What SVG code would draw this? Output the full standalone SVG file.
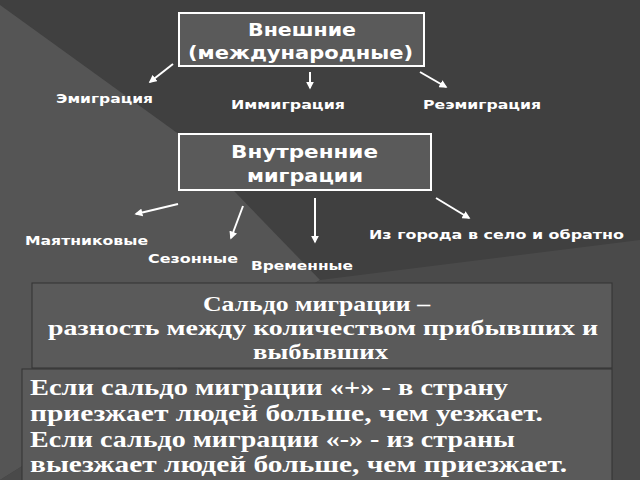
<svg xmlns="http://www.w3.org/2000/svg" width="640" height="480" viewBox="0 0 640 480">
<defs>
<style>
.s{font-family:"DejaVu Sans",sans-serif;font-weight:bold;fill:#fff}
.r{font-family:"Liberation Serif",serif;font-weight:bold;fill:#fff}
.c{stroke:#fff;stroke-width:2;fill:none;marker-end:url(#a)}
</style>
<marker id="a" viewBox="0 0 10 10" refX="8" refY="5" markerWidth="4" markerHeight="4" orient="auto"><path d="M0,0L10,5L0,10z" fill="#fff"/></marker>
</defs>
<rect width="640" height="480" fill="#404040"/>
<polygon points="0,5 180,135 320,280 0,480" fill="#555"/>
<polygon points="320,280 640,240 640,480 0,480" fill="#4a4a4a"/>
<g id="n1"><rect x="179" y="13" width="245" height="53" fill="#5a5a5a" stroke="#fff" stroke-width="2"/>
<text class="s" x="248" y="36" font-size="17" textLength="108" lengthAdjust="spacingAndGlyphs">Внешние</text>
<text class="s" x="188" y="59" font-size="17" textLength="225" lengthAdjust="spacingAndGlyphs">(международные)</text></g>
<g id="n2"><rect x="179" y="134" width="252" height="56" fill="#5a5a5a" stroke="#fff" stroke-width="2"/>
<text class="s" x="231" y="158" font-size="17" textLength="147" lengthAdjust="spacingAndGlyphs">Внутренние</text>
<text class="s" x="247" y="182" font-size="17" textLength="116" lengthAdjust="spacingAndGlyphs">миграции</text></g>
<g id="l1"><text class="s" x="56" y="103" font-size="13" textLength="97" lengthAdjust="spacingAndGlyphs">Эмиграция</text></g>
<g id="l2"><text class="s" x="231" y="109" font-size="13" textLength="114" lengthAdjust="spacingAndGlyphs">Иммиграция</text></g>
<g id="l3"><text class="s" x="423" y="109" font-size="13" textLength="118" lengthAdjust="spacingAndGlyphs">Реэмиграция</text></g>
<g id="l4"><text class="s" x="25" y="245" font-size="13" textLength="123" lengthAdjust="spacingAndGlyphs">Маятниковые</text></g>
<g id="l5"><text class="s" x="148" y="263" font-size="13" textLength="90" lengthAdjust="spacingAndGlyphs">Сезонные</text></g>
<g id="l6"><text class="s" x="251" y="270" font-size="13" textLength="102" lengthAdjust="spacingAndGlyphs">Временные</text></g>
<g id="l7"><text class="s" x="369" y="239" font-size="13" textLength="255" lengthAdjust="spacingAndGlyphs">Из города в село и обратно</text></g>
<g id="conn">
<line class="c" x1="173" y1="64" x2="150" y2="82"/>
<line class="c" x1="310" y1="72" x2="310" y2="88"/>
<line class="c" x1="420" y1="72" x2="446" y2="87"/>
<line class="c" x1="178" y1="204" x2="136" y2="214"/>
<line class="c" x1="243" y1="206" x2="231" y2="238"/>
<line class="c" x1="315" y1="198" x2="315" y2="242"/>
<line class="c" x1="436" y1="198" x2="469" y2="218"/>
</g>
<g id="n3"><rect x="32" y="283" width="580" height="85" fill="#5a5a5a" stroke="#333" stroke-width="1"/>
<text class="r" x="203" y="311" font-size="22" textLength="227" lengthAdjust="spacingAndGlyphs">Сальдо миграции –</text>
<text class="r" x="48" y="335" font-size="22" textLength="550" lengthAdjust="spacingAndGlyphs">разность между количеством прибывших и</text>
<text class="r" x="253" y="359" font-size="22" textLength="135" lengthAdjust="spacingAndGlyphs">выбывших</text></g>
<g id="n4"><rect x="22" y="369" width="590" height="112" fill="#5a5a5a" stroke="#333" stroke-width="1"/>
<text class="r" x="30" y="395" font-size="23" textLength="478" lengthAdjust="spacingAndGlyphs">Если сальдо миграции «+»  - в страну</text>
<text class="r" x="30" y="421" font-size="23" textLength="513" lengthAdjust="spacingAndGlyphs">приезжает людей больше, чем уезжает.</text>
<text class="r" x="30" y="447" font-size="23" textLength="485" lengthAdjust="spacingAndGlyphs">Если сальдо миграции «-» - из страны</text>
<text class="r" x="30" y="472" font-size="23" textLength="537" lengthAdjust="spacingAndGlyphs">выезжает людей больше, чем приезжает.</text></g>
</svg>
